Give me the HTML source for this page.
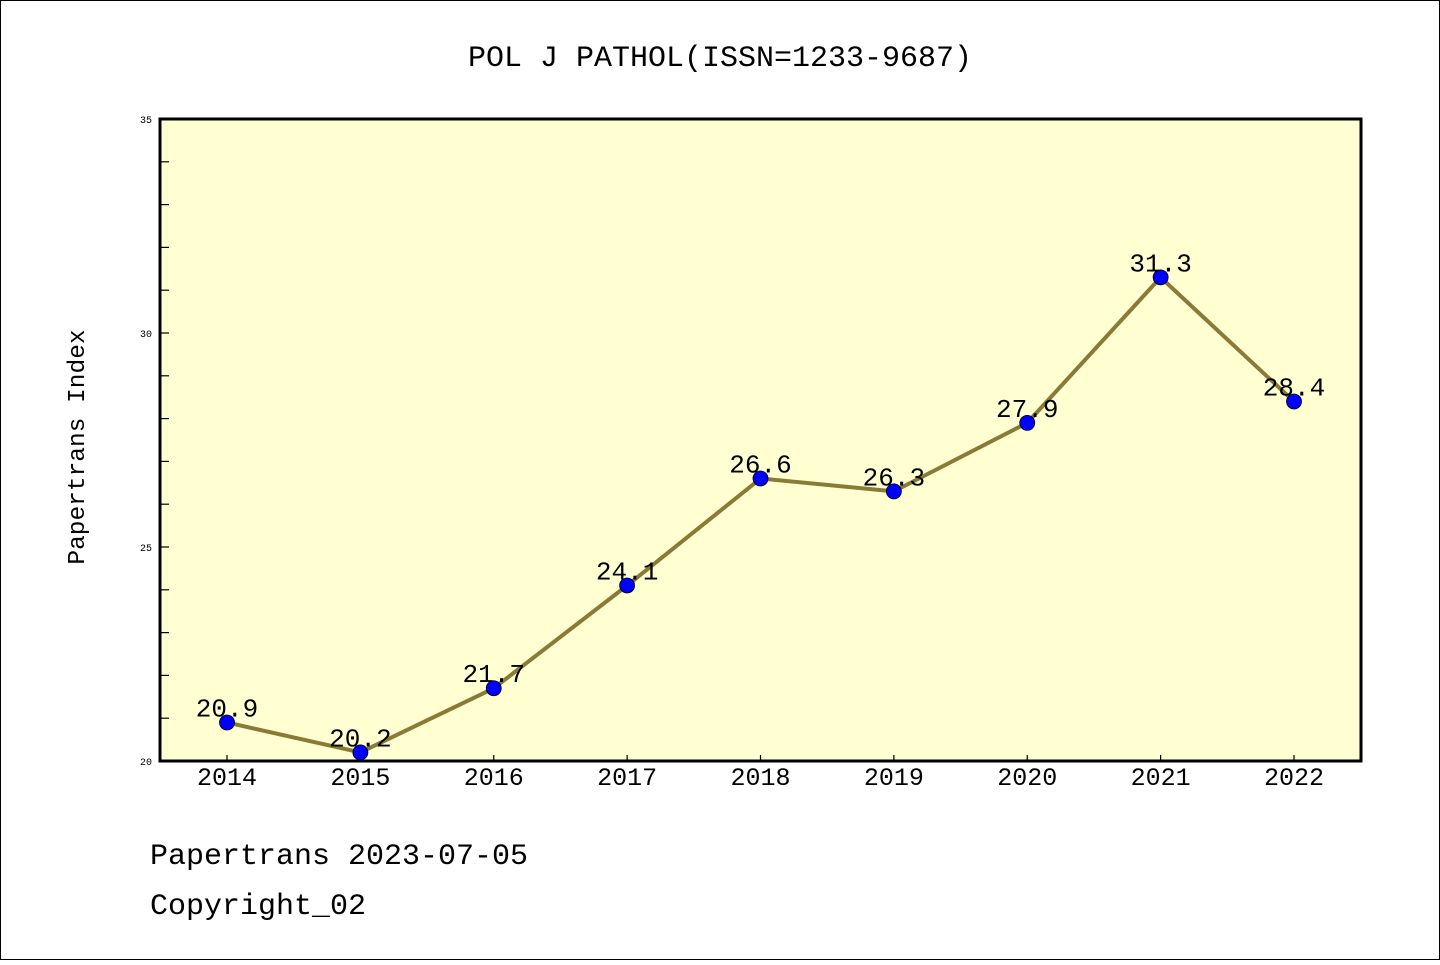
<!DOCTYPE html>
<html><head><meta charset="utf-8"><style>
body{margin:0;background:#fff}
svg text{font-family:"Liberation Mono","Noto Sans CJK SC",monospace;fill:#000}
</style></head><body>
<svg id="chart" width="1440" height="960" xmlns="http://www.w3.org/2000/svg">
<rect x="0.5" y="0.5" width="1439" height="959" fill="#fff" stroke="#000"/>
<text x="720" y="66" font-size="30" text-anchor="middle">POL J PATHOL(ISSN=1233-9687)</text>
<rect x="160" y="119" width="1201" height="642" fill="#ffffd2"/>
<g id="yticks"></g><g id="xticks"></g>
<g id="series"></g>
<rect x="160" y="119" width="1201" height="642" fill="none" stroke="#000" stroke-width="3"/>
<text transform="translate(84,447) rotate(-90)" font-size="24.5" text-anchor="middle">Papertrans Index</text>
<text x="150" y="864" font-size="30">Papertrans 2023-07-05</text>
<text x="150" y="914" font-size="30">Copyright_02</text>
</svg>
<script>
const categories=["2014","2015","2016","2017","2018","2019","2020","2021","2022"];
const values=[20.9,20.2,21.7,24.1,26.6,26.3,27.9,31.3,28.4];
const yTickLabels=[20,25,30,35];
const NS="http://www.w3.org/2000/svg";
const yMin=20,yMax=35,yTop=119,yBot=761;
function y(v){return yBot-(v-yMin)/(yMax-yMin)*(yBot-yTop);}
function x(i){return 227+i*(1294-227)/(categories.length-1);}
function mk(t,a,p){const e=document.createElementNS(NS,t);for(const k in a)e.setAttribute(k,a[k]);p.appendChild(e);return e;}
const yt=document.getElementById('yticks'),xt=document.getElementById('xticks'),se=document.getElementById('series');
for(let v=yMin+1;v<yMax;v++){const l=mk('line',{x1:160,x2:169,y1:y(v),y2:y(v),stroke:'#000','stroke-width':1.2},yt);

}
yTickLabels.forEach(v=>{const t=mk('text',{x:152,y:y(v)+4,'font-size':10,'text-anchor':'end'},yt);t.textContent=v;

});
categories.forEach((c,i)=>{const l=mk('line',{x1:x(i),x2:x(i),y1:yBot,y2:yBot-6,stroke:'#000','stroke-width':1.2},xt);


const t=mk('text',{x:x(i),y:785,'font-size':25,'text-anchor':'middle'},xt);t.textContent=c;

});
const pl=mk('polyline',{points:values.map((v,i)=>x(i)+','+y(v)).join(' '),fill:'none',stroke:'#8b7a35','stroke-width':4},se);


values.forEach((v,i)=>{const c=mk('circle',{cx:x(i),cy:y(v),r:7.5,fill:'#0000ff',stroke:'#000','stroke-width':0.8},se);


const t=mk('text',{x:x(i),y:y(v)-6,'font-size':26,'text-anchor':'middle'},se);t.textContent=v.toFixed(1);

});
</script>
</body></html>
